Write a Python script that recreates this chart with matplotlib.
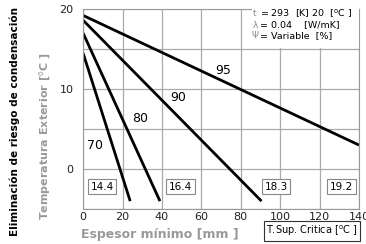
import matplotlib
matplotlib.use("Agg")
import matplotlib.pyplot as plt
from matplotlib.patches import Rectangle

# data
humidity = ["70", "80", "90", "95"]
x_start = [0, 0, 0, 0]
y_start = [14.5, 17.0, 18.6, 19.2]
x_end = [23.9, 39.0, 90.5, 140]
y_end = [-4, -4, -4, 3.0]
label_x = [6, 29, 48, 71]
label_y = [3.0, 6.3, 9.0, 12.3]
crit_temps = ["14.4", "16.4", "18.3", "19.2"]
crit_x = [9.6, 49.5, 98, 131]
crit_y = -2.2
xticks = [0, 20, 40, 60, 80, 100, 120, 140]
yticks = [0, 10, 20]

fig = plt.figure(figsize=(3.66, 2.44), dpi=100)
ax = fig.add_axes([0.227, 0.143, 0.754, 0.820])
ax.set_xlim(0, 140)
ax.set_ylim(-4, 20)
ax.set_xticks(xticks)
ax.set_yticks(yticks)
ax.set_yticks([-5, 5, 15], minor=True)
ax.grid(True, which="both", color="#aaaaaa", lw=0.9)
ax.set_axisbelow(True)
for s in ax.spines.values():
    s.set_color("#999999")
ax.tick_params(axis="y", length=0, labelsize=8, pad=7, colors="#222222")
ax.tick_params(axis="x", length=0, labelsize=8, pad=2, colors="#222222")
ax.tick_params(which="minor", length=0)

for i in range(len(humidity)):
    ax.plot([x_start[i], x_end[i]], [y_start[i], y_end[i]], color="black", lw=2.0,
            solid_capstyle="butt", clip_on=True)
    ax.text(label_x[i], label_y[i], humidity[i], fontsize=9, ha="center", va="center")

for t, cx in zip(crit_temps, crit_x):
    ax.text(cx, crit_y, t, fontsize=7.5, ha="center", va="center", zorder=5,
            bbox=dict(boxstyle="square,pad=0.25", fc="white", ec="#888888", lw=0.8))

ax.set_ylabel("Temperatura Exterior [$^{\\rm o}$C ]", color="#999999", fontsize=8,
              fontweight="bold")
ax.yaxis.set_label_coords(-0.11, 0.365)
ax.set_xlabel("Espesor mínimo [mm ]", color="#999999", fontsize=9,
              fontweight="bold")
ax.xaxis.set_label_coords(0.28, -0.095)

fig.text(0.04, 0.5, "Eliminación de riesgo de condensación", rotation=90,
         fontsize=7.5, fontweight="bold", ha="center", va="center")

# legend box (white, covering the grid)
ax.add_patch(Rectangle((252/366, 1-48/244), 107/366, 46/244, transform=fig.transFigure,
                       fc="white", ec="none", zorder=6, clip_on=False))
leg_lines = ["= 293  [K] 20  [$^{\\rm o}$C ]", "= 0.04    [W/mK]", "= Variable  [%]"]
leg_syms = ["t", "λ", "Ψ"]
for k, (sym, txt) in enumerate(zip(leg_syms, leg_lines)):
    yy = 1 - (14 + k * 11) / 244
    ax.text(255/366, yy, sym, fontsize=6.5, color="#888888", ha="center", va="center",
            zorder=7, transform=fig.transFigure)
    ax.text(260/366, yy, txt, fontsize=6.8, ha="left", va="center", zorder=7,
            transform=fig.transFigure)

fig.text(312/366, 1 - 231/244, "T.Sup. Critica [$^{\\rm o}$C ]", fontsize=7, ha="center",
         va="center", bbox=dict(boxstyle="square,pad=0.25", fc="white", ec="#333333", lw=0.8))

fig.savefig("out.png", dpi=100)
